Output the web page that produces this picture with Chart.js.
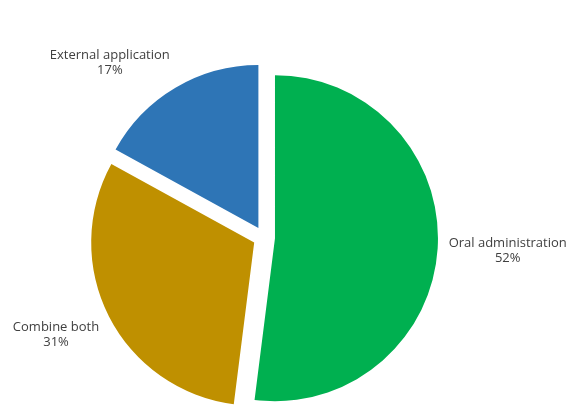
<!DOCTYPE html>
<html>
<head>
<meta charset="utf-8">
<script src="https://cdn.jsdelivr.net/npm/chart.js@4"></script>
<style>
  html, body { margin: 0; padding: 0; background: #fff; }
  canvas { display: block; }
</style>
</head>
<body>
<canvas id="pieChart" width="566" height="407"></canvas>
<script>
const categories = ['Oral administration', 'Combine both', 'External application'];
const shares = [52, 31, 17];
const sliceColors = ['#00B050', '#BF9000', '#2E75B6'];

// pixels each slice is pulled out from the centre
const EXPLODE = 11;

// The built-in `offset` option also grows the radius of slices wider than 180deg,
// so shift the arcs ourselves and keep every slice the same size.
const baseArcDraw = Chart.ArcElement.prototype.draw;
Chart.ArcElement.prototype.draw = function (ctx) {
    const mid = (this.startAngle + this.endAngle) / 2;
    ctx.save();
    ctx.translate(Math.cos(mid) * EXPLODE, Math.sin(mid) * EXPLODE);
    baseArcDraw.call(this, ctx);
    ctx.restore();
};

// Category name + percentage placed just outside each slice
const outsideLabels = {
    id: 'outsideLabels',
    afterDatasetsDraw(chart) {
        const ctx = chart.ctx;
        const arcs = chart.getDatasetMeta(0).data;
        const lineHeight = 15;
        ctx.save();
        ctx.font = '13px "Open Sans", sans-serif';
        ctx.fillStyle = '#404040';
        ctx.textAlign = 'center';
        ctx.textBaseline = 'middle';
        arcs.forEach((arc, i) => {
            const mid = (arc.startAngle + arc.endAngle) / 2;
            const r = arc.outerRadius + EXPLODE + 11;
            const px = arc.x + Math.cos(mid) * r;
            const py = arc.y + Math.sin(mid) * r;
            const lines = [categories[i], shares[i] + '%'];
            const w = Math.max(...lines.map(t => ctx.measureText(t).width));
            const h = lineHeight * lines.length;
            // push the text box away from the pie so its near edge touches the anchor
            const kx = Math.max(-1, Math.min(1, 2 * Math.cos(mid)));
            const ky = Math.max(-1, Math.min(1, 2 * Math.sin(mid)));
            const cx = px + kx * w / 2;
            const cy = py + ky * h / 2;
            lines.forEach((t, j) => {
                ctx.fillText(t, cx, cy - h / 2 + lineHeight * (j + 0.5));
            });
        });
        ctx.restore();
    }
};

new Chart(document.getElementById('pieChart'), {
    type: 'pie',
    data: {
        labels: categories,
        datasets: [{
            data: shares,
            backgroundColor: sliceColors,
            borderWidth: 0
        }]
    },
    options: {
        responsive: false,
        animation: false,
        radius: 163,
        layout: {
            padding: { top: 68, bottom: 0, left: 0, right: 38 }
        },
        plugins: {
            legend: { display: false },
            tooltip: { enabled: false }
        }
    },
    plugins: [outsideLabels]
});
</script>
</body>
</html>
